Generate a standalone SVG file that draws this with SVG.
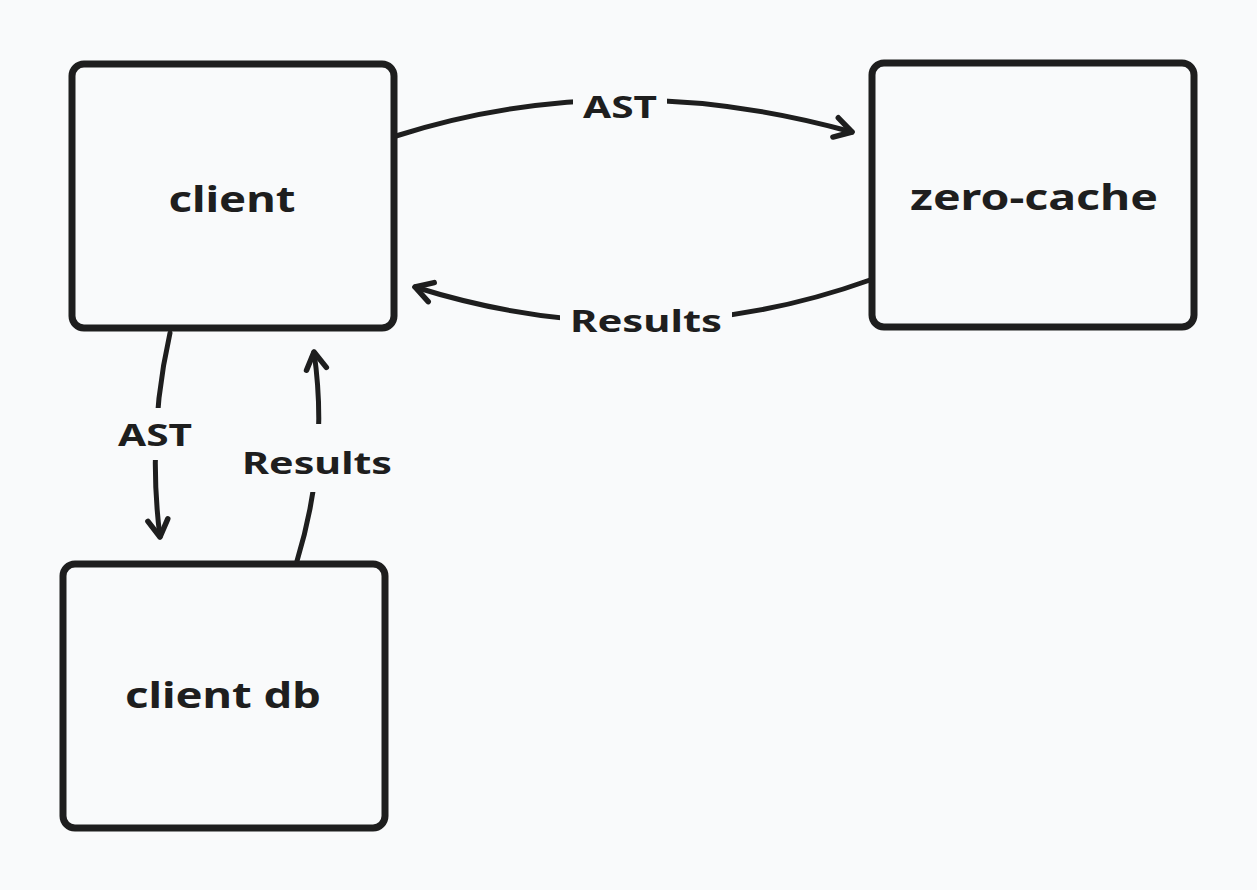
<svg xmlns="http://www.w3.org/2000/svg" width="1257" height="890" viewBox="0 0 1257 890">
<defs>
<style>
.box{fill:none;stroke:#1e1e1e;stroke-width:7;stroke-linejoin:round}
.edge{fill:none;stroke:#1e1e1e;stroke-width:5;stroke-linecap:round}
.lbg{fill:#f9fafb}
.t{font-family:"Noto Sans","Liberation Sans",sans-serif;font-weight:700;fill:#1e1e1e;text-anchor:middle}
.node{font-size:36px}
.lab{font-size:30px}
</style>
<marker id="arr" markerWidth="32" markerHeight="32" refX="21" refY="16" orient="auto" markerUnits="userSpaceOnUse">
<polyline points="4,6 21,16 4,26" fill="none" stroke="#1e1e1e" stroke-width="5.5" stroke-linecap="round" stroke-linejoin="round"/>
</marker>
</defs>
<rect width="1257" height="890" fill="#f9fafb"/>
<g id="connectors">
<path class="edge" d="M396,136 Q616,66 852,132" marker-end="url(#arr)"/>
<path class="edge" d="M870,280 Q647,360 415,287" marker-end="url(#arr)"/>
<path class="edge" d="M170,333 Q147,435 160,537" marker-end="url(#arr)"/>
<path class="edge" d="M297,561 Q329,456 314,352" marker-end="url(#arr)"/>
<rect class="lbg" x="573" y="86" width="94" height="38"/>
<text class="t lab" x="620" y="118" textLength="74" lengthAdjust="spacingAndGlyphs">AST</text>
<rect class="lbg" x="560" y="300" width="172" height="40"/>
<text class="t lab" x="646" y="332" textLength="152" lengthAdjust="spacingAndGlyphs">Results</text>
<rect class="lbg" x="110" y="408" width="90" height="52"/>
<text class="t lab" x="155" y="446" textLength="74" lengthAdjust="spacingAndGlyphs">AST</text>
<rect class="lbg" x="236" y="424" width="164" height="68"/>
<text class="t lab" x="317" y="474" textLength="150" lengthAdjust="spacingAndGlyphs">Results</text>
</g>
<g id="client">
<rect class="box" x="72" y="64" width="322" height="264" rx="12"/>
<text class="t node" x="232" y="212" textLength="127" lengthAdjust="spacingAndGlyphs">client</text>
</g>
<g id="zero-cache">
<rect class="box" x="872" y="63" width="322" height="264" rx="12"/>
<text class="t node" x="1034" y="210" textLength="248" lengthAdjust="spacingAndGlyphs">zero-cache</text>
</g>
<g id="client-db">
<rect class="box" x="63" y="564" width="322" height="264" rx="12"/>
<text class="t node" x="223" y="708" textLength="196" lengthAdjust="spacingAndGlyphs">client db</text>
</g>
</svg>
